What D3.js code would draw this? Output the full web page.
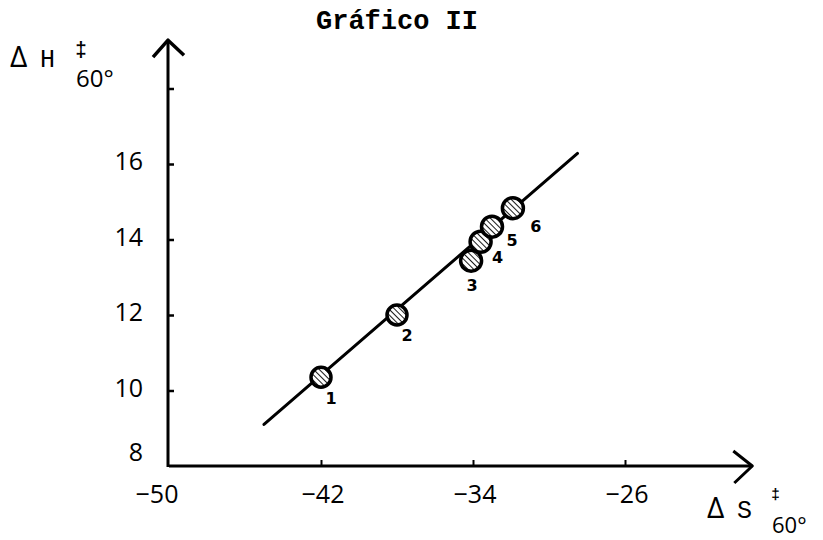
<!DOCTYPE html>
<html><head><meta charset="utf-8">
<script src="https://cdn.jsdelivr.net/npm/d3@7"></script>
<style>html,body{margin:0;padding:0;background:#fff;}svg{display:block;}</style>
</head><body>
<svg id="c" width="823" height="540"></svg>
<script>
// ---- data ----
const pointIds = ["1","2","3","4","5","6"];
const deltaS = [-42.0, -38.0, -34.1, -33.6, -33.0, -31.9];
const deltaH = [10.35, 12.0, 13.44, 13.94, 14.34, 14.83];
const fitS = [-45.0, -28.5];
const fitH = [9.10, 16.28];
const xTickValues = [-50, -42, -34, -26];
const yTickValues = [8, 10, 12, 14, 16, 18];
const yTickLabels = ["8", "10", "12", "14", "16", ""];
const titleText = "Gráfico II";

// ---- layout ----
const svg = d3.select("#c");
const x = d3.scaleLinear().domain([-50, -26]).range([169, 625]);
const y = d3.scaleLinear().domain([8, 16]).range([466, 164]);
const xEnd = -19.3, yEnd = 19.28;
const ink = "#000";

// hatch pattern
const defs = svg.append("defs");
const pat = defs.append("pattern").attr("id","hatch").attr("patternUnits","userSpaceOnUse")
  .attr("width",4).attr("height",4).attr("patternTransform","rotate(-45)");
pat.append("rect").attr("width",4).attr("height",4).attr("fill","#fff");
pat.append("line").attr("x1",0).attr("y1",0).attr("x2",0).attr("y2",4)
  .attr("stroke",ink).attr("stroke-width",1.8);

// title
svg.append("text").attr("x",397).attr("y",29).attr("text-anchor","middle")
  .attr("font-family","'Liberation Mono', 'DejaVu Sans Mono', monospace")
  .attr("font-weight","bold").attr("font-size",27).text(titleText);

// axes lines
const xAxisG = svg.append("g").attr("transform",`translate(0,${y(8)})`);
xAxisG.call(d3.axisTop(x).tickValues(xTickValues.filter(v=>v!==-50)).tickSize(6).tickFormat(""))
  .call(g=>g.select(".domain").remove());
xAxisG.selectAll(".tick line").attr("stroke",ink).attr("stroke-width",2);
svg.append("line").attr("x1",x(-50)).attr("x2",x(xEnd)).attr("y1",y(8)).attr("y2",y(8))
  .attr("stroke",ink).attr("stroke-width",3);
svg.append("path").attr("d",`M${x(xEnd)-19},${y(8)-15} L${x(xEnd)},${y(8)} L${x(xEnd)-18},${y(8)+17}`)
  .attr("fill","none").attr("stroke",ink).attr("stroke-width",3).attr("stroke-linejoin","round");

const yAxisG = svg.append("g").attr("transform",`translate(${x(-50)-1},0)`);
yAxisG.call(d3.axisRight(y).tickValues(yTickValues.filter(v=>v!==8)).tickSize(6).tickFormat(""))
  .call(g=>g.select(".domain").remove());
yAxisG.selectAll(".tick line").attr("stroke",ink).attr("stroke-width",2.5);
svg.append("line").attr("x1",x(-50)-1).attr("x2",x(-50)-1).attr("y1",y(8)+1).attr("y2",y(yEnd))
  .attr("stroke",ink).attr("stroke-width",3);
svg.append("path").attr("d",`M${x(-50)-16},${y(yEnd)+17} L${x(-50)-1},${y(yEnd)} L${x(-50)+15},${y(yEnd)+15}`)
  .attr("fill","none").attr("stroke",ink).attr("stroke-width",3.5).attr("stroke-linejoin","round");

// tick labels
const labFont = "'Open Sans', 'DejaVu Sans', sans-serif";
svg.append("g").selectAll("text").data(xTickValues).join("text")
  .attr("x",d=>x(d) + (d===-50 ? -12 : 2)).attr("y",y(8)+37).attr("text-anchor","middle")
  .attr("font-family",labFont).attr("font-size",25).attr("fill",ink)
  .text(d=>"\u2212"+Math.abs(d));
svg.append("g").selectAll("text").data(yTickValues).join("text")
  .attr("x",143).attr("y",(d)=>y(d) + (d===8 ? -5 : 6)).attr("text-anchor","end")
  .attr("font-family",labFont).attr("font-size",25).attr("fill",ink)
  .text((d,i)=>yTickLabels[i]);

// axis titles
const mono = "'Liberation Mono', 'DejaVu Sans Mono', monospace";
const yl = svg.append("g");
yl.append("text").attr("x",10).attr("y",67).attr("font-family",labFont).attr("font-size",30).text("\u0394");
yl.append("text").attr("x",40).attr("y",67).attr("font-family",mono).attr("font-size",25).text("H");
yl.append("text").attr("x",75).attr("y",56).attr("font-family",mono).attr("font-weight","bold").attr("font-size",20).text("\u2021");
yl.append("text").attr("x",76).attr("y",87).attr("font-family",labFont).attr("font-size",24).text("60\u00B0");

const xl = svg.append("g");
xl.append("text").attr("x",707).attr("y",518).attr("font-family",labFont).attr("font-size",30).text("\u0394");
xl.append("text").attr("x",737).attr("y",518).attr("font-family",mono).attr("font-size",25).text("S");
xl.append("text").attr("x",771).attr("y",499).attr("font-family",mono).attr("font-weight","bold").attr("font-size",15).text("\u2021");
xl.append("text").attr("x",772).attr("y",533).attr("font-family",labFont).attr("font-size",22).text("60\u00B0");

// fit line
svg.append("line").attr("x1",x(fitS[0])).attr("y1",y(fitH[0])).attr("x2",x(fitS[1])).attr("y2",y(fitH[1]))
  .attr("stroke",ink).attr("stroke-width",3).attr("stroke-linecap","round");

// points
const pts = pointIds.map((id,i)=>({id, s:deltaS[i], h:deltaH[i]}));
svg.append("g").selectAll("circle").data(pts).join("circle")
  .attr("cx",d=>x(d.s)).attr("cy",d=>y(d.h)).attr("r",(d,i)=> i<2 ? 10 : 10.5)
  .attr("fill","url(#hatch)").attr("stroke",ink).attr("stroke-width",3.5);

// point labels
const labelDx = [10, 10, 1, 17, 20, 23];
const labelDy = [21, 20, 24, 15, 13, 18];
svg.append("g").selectAll("text").data(pts).join("text")
  .attr("x",(d,i)=>x(d.s)+labelDx[i]).attr("y",(d,i)=>y(d.h)+labelDy[i]+6)
  .attr("text-anchor","middle").attr("font-family","'DejaVu Sans', sans-serif")
  .attr("font-weight","bold").attr("font-size",16).attr("fill",ink).text(d=>d.id);
</script>
</body></html>
